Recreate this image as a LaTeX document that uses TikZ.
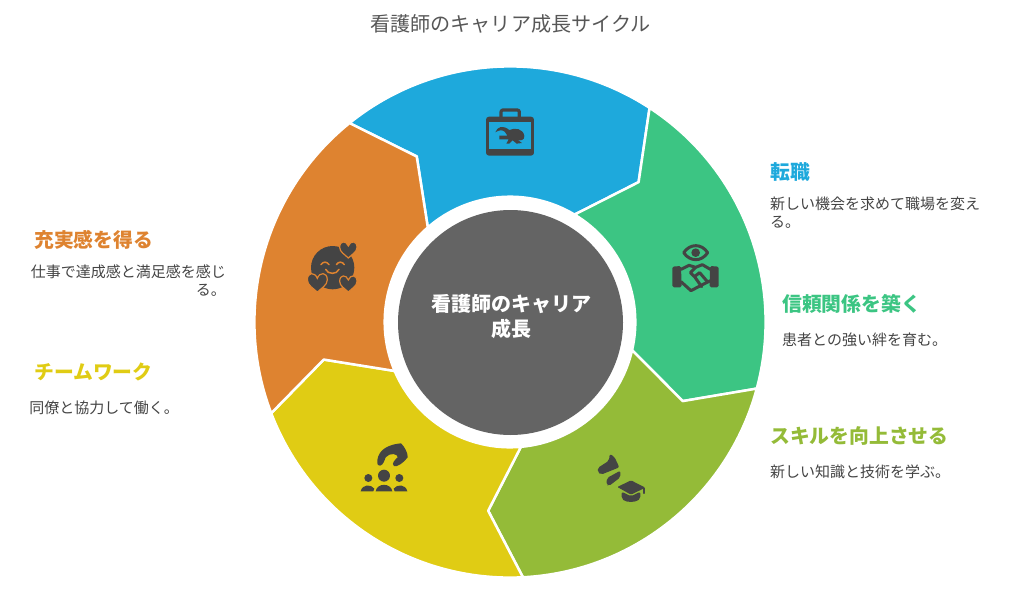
\documentclass[tikz,border=0pt]{standalone}
\usepackage{fontspec}
\setmainfont{Noto Sans CJK JP}
\definecolor{cblue}{HTML}{1EA9DC}
\definecolor{cgreen}{HTML}{3CC583}
\definecolor{clime}{HTML}{94BB38}
\definecolor{cyellow}{HTML}{E0CC14}
\definecolor{corange}{HTML}{DE8330}
\definecolor{ccore}{HTML}{646464}
\definecolor{cicon}{HTML}{444444}
\begin{document}
\begin{tikzpicture}[x=1pt, y=1pt]
    \tikzstyle{sect} = [draw=white, line width=2.5pt, line join=round]
    \tikzstyle{head} = [font=\fontsize{19.8}{24}\selectfont\bfseries, anchor=west, inner sep=0pt]
    \tikzstyle{desc} = [font=\fontsize{15}{18.6}\selectfont, text=cicon, inner sep=0pt]
    \tikzstyle{ico} = [fill=cicon, draw=none]
    \tikzstyle{icoline} = [draw=cicon, fill=none, line cap=round, line join=round]
    \tikzset{heartic/.pic={
        \path [ico, draw=corange, line width=1.2pt] (0,23) .. controls (-10,13) and (-26,5) .. (-26,-9)
            .. controls (-26,-30) and (-6,-30) .. (0,-13)
            .. controls (6,-30) and (26,-30) .. (26,-9)
            .. controls (26,5) and (10,13) .. (0,23) -- cycle;
    }}
    \useasboundingbox (0,0) rectangle (1020,-597);

    % sectors
    \begin{scope}[shift={(510,-322)}]
        \path [sect, fill=cblue] (56.9:255.6) arc [start angle=56.9, end angle=128.9, radius=255.6]
            -- (119.4:190) -- (131:125.3) arc [start angle=131, end angle=59, radius=125.3] -- (47.4:190) -- cycle;
        \path [sect, fill=cgreen] (-15.1:255.6) arc [start angle=-15.1, end angle=56.9, radius=255.6]
            -- (47.4:190) -- (59:125.3) arc [start angle=59, end angle=-13, radius=125.3] -- (-24.6:190) -- cycle;
        \path [sect, fill=clime] (-87.1:255.6) arc [start angle=-87.1, end angle=-15.1, radius=255.6]
            -- (-24.6:190) -- (-13:125.3) arc [start angle=-13, end angle=-85, radius=125.3] -- (-96.6:190) -- cycle;
        \path [sect, fill=cyellow] (-159.1:255.6) arc [start angle=-159.1, end angle=-87.1, radius=255.6]
            -- (-96.6:190) -- (-85:125.3) arc [start angle=-85, end angle=-157, radius=125.3] -- (-168.6:190) -- cycle;
        \path [sect, fill=corange] (128.9:255.6) arc [start angle=128.9, end angle=200.9, radius=255.6]
            -- (191.4:190) -- (203:125.3) arc [start angle=203, end angle=131, radius=125.3] -- (119.4:190) -- cycle;
    \end{scope}

    \node (core) [circle, fill=ccore, minimum size=225pt, inner sep=0pt] at (510.5,-322.5) {};
    \node (core1) [inner sep=0pt, text=white, font=\fontsize{20}{25}\selectfont\bfseries] at (511,-304) {看護師のキャリア};
    \node (core2) [inner sep=0pt, text=white, font=\fontsize{20}{25}\selectfont\bfseries] at (511,-329) {成長};

    % briefcase
    \begin{scope}[shift={(470,-90)}, x=.3333pt, y=-.3333pt]
        \draw [icoline, line width=3.2pt, rounded corners=2pt] (93,85) -- (93,60) -- (148,60) -- (148,85);
        \path [ico, rounded corners=3pt] (48,80) rectangle (192,197);
        \path [fill=cblue] (58,97) rectangle (182,178);
        \path [ico] (76,127) .. controls (82,110) and (98,104) .. (118,120) .. controls (135,112) and (160,116) .. (163,138)
            .. controls (164,150) and (152,154) .. (142,149) -- (156,159) -- (140,161) -- (128,151) -- (118,161) -- (109,161)
            -- (116,148) -- (88,148) -- (88,137) -- (112,137) -- (105,126) .. controls (98,119) and (88,119) .. (76,127) -- cycle;
    \end{scope}

    % eye and handshake
    \begin{scope}[shift={(655,-230)}, x=.3333pt, y=-.3333pt]
        \draw [icoline, line width=3pt] (86,68) .. controls (105,40) and (140,40) .. (158,68)
            .. controls (140,96) and (105,96) .. (86,68) -- cycle;
        \path [ico] (122,68) circle [radius=13];
        \path [ico, rounded corners=1.5pt] (52,110) -- (78,108) -- (80,172) -- (52,172) -- cycle;
        \path [ico, rounded corners=1.5pt] (165,108) -- (191,110) -- (191,172) -- (164,172) -- cycle;
        \draw [icoline, line width=3pt] (78,118) -- (102,106) -- (122,112) -- (142,104) -- (166,118);
        \draw [icoline, line width=3pt] (78,155) -- (108,182) -- (150,160) -- (166,152);
        \draw [icoline, line width=3pt] (122,112) -- (106,128) -- (118,140) -- (134,128) -- (158,156);
        \draw [icoline, line width=3pt] (120,142) -- (140,170);
    \end{scope}

    % beetle and cap
    \begin{scope}[shift={(585,-440)}, x=.3333pt, y=-.3333pt]
        \path [ico, rounded corners=2pt] (38,84) -- (72,62) -- (74,42) -- (88,50) -- (103,82) -- (48,104) -- (38,96) -- cycle;
        \path [ico, rounded corners=2pt] (66,114) -- (106,92) -- (106,112) -- (72,138) -- (64,134) -- cycle;
        \path [ico, rounded corners=1pt] (97,141) -- (138,121) -- (181,143) -- (138,164) -- cycle;
        \path [ico, rounded corners=2pt] (110,155) -- (138,169) -- (166,155) -- (166,176) .. controls (150,188) and (125,188) .. (110,176) -- cycle;
        \draw [icoline, line width=1.2pt] (177,145) -- (177,160);
    \end{scope}

    % hook and people
    \begin{scope}[shift={(345,-430)}, x=.3333pt, y=-.3333pt]
        \path [ico] (97,100) .. controls (95,70) and (115,45) .. (168,40) .. controls (178,48) and (190,72) .. (188,82)
            .. controls (175,100) and (155,112) .. (147,108) .. controls (138,100) and (150,90) .. (158,82)
            .. controls (160,72) and (135,66) .. (122,82) .. controls (118,92) and (115,105) .. (105,107) .. controls (100,107) and (97,104) .. (97,100) -- cycle;
        \path [ico] (117,137) circle [radius=18];
        \path [ico] (70,144) circle [radius=12];
        \path [ico] (163,144) circle [radius=12];
        \path [ico] (92,184) .. controls (96,158) and (138,158) .. (142,184) -- cycle;
        \path [ico] (47,184) .. controls (52,162) and (78,162) .. (88,176) -- (85,184) -- cycle;
        \path [ico] (187,184) .. controls (182,162) and (156,162) .. (146,176) -- (149,184) -- cycle;
    \end{scope}

    % smiling face and hearts
    \begin{scope}[shift={(295,-230)}, x=.3333pt, y=-.3333pt]
        \path [ico] (113,113) circle [radius=65];
        \draw [draw=corange, line width=1.5pt, line cap=round] (78,104) .. controls (84,94) and (96,94) .. (102,104);
        \draw [draw=corange, line width=1.5pt, line cap=round] (124,104) .. controls (130,94) and (142,94) .. (148,104);
        \draw [draw=corange, line width=1.5pt, line cap=round] (92,118) .. controls (98,134) and (126,134) .. (132,118);
        \pic [scale=1] at (160,61) {heartic};
        \pic [scale=1.15] at (67,160) {heartic};
        \pic [scale=1] at (160,163) {heartic};
    \end{scope}

    % labels
    \node (title) [inner sep=0pt, text=cicon!90!white, font=\fontsize{20.1}{24}\selectfont] at (510.5,-24) {看護師のキャリア成長サイクル};

    \node (h1) [head, text=cblue] at (770,-172) {転職};
    \node (d1) [desc, anchor=north west, align=left] at (770,-196.5) {新しい機会を求めて職場を変え\\る。};
    \node (h2) [head, text=cgreen] at (782,-304) {信頼関係を築く};
    \node (d2) [desc, anchor=west] at (782,-340) {患者との強い絆を育む。};
    \node (h3) [head, text=clime] at (770,-436) {スキルを向上させる};
    \node (d3) [desc, anchor=west] at (770,-472) {新しい知識と技術を学ぶ。};
    \node (h4) [head, text=cyellow] at (34,-372) {チームワーク};
    \node (d4) [desc, anchor=east] at (179,-408) {同僚と協力して働く。};
    \node (h5) [head, text=corange] at (34,-240) {充実感を得る};
    \node (d5) [desc, anchor=north east, align=right] at (226,-264.5) {仕事で達成感と満足感を感じ\\る。};
\end{tikzpicture}
\end{document}
